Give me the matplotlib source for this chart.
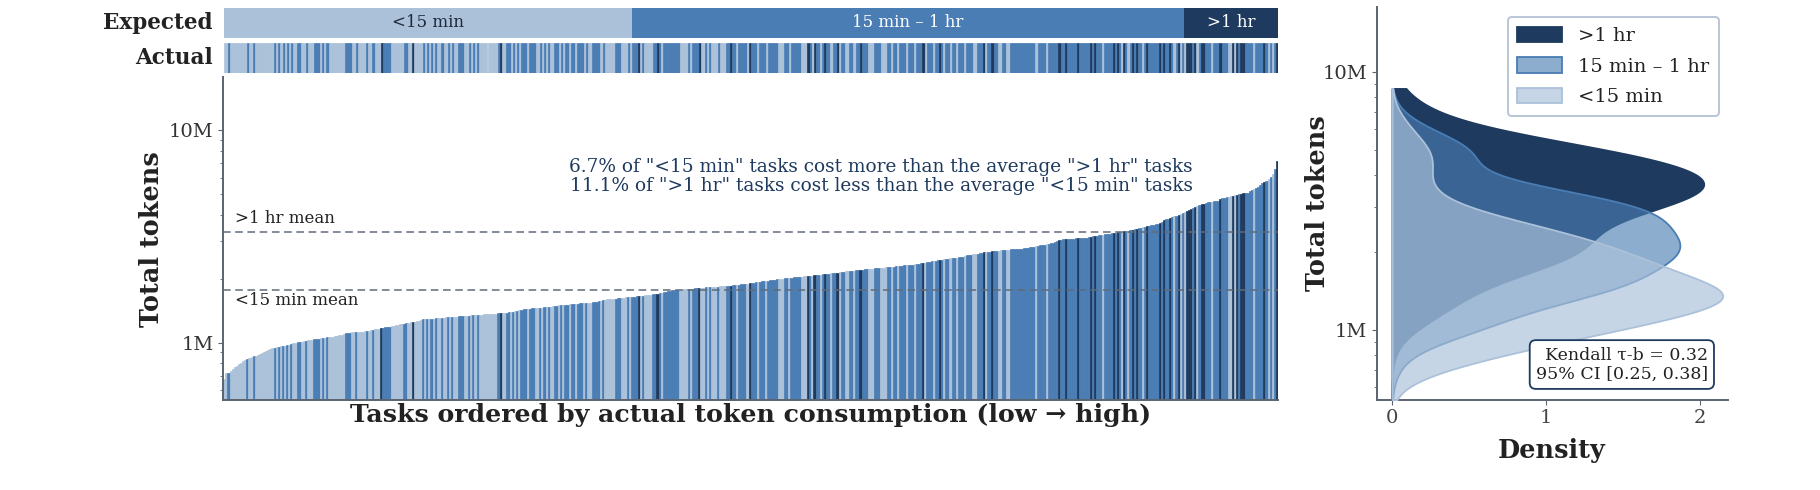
"""Token consumption per task, ordered, coloured by expected duration + stacked KDE."""
import numpy as np
import matplotlib
matplotlib.use("Agg")
import matplotlib.pyplot as plt
from matplotlib.patches import Patch
from matplotlib.colors import to_rgba
from matplotlib.ticker import FuncFormatter, LogLocator, NullFormatter
import matplotlib.transforms as mtransforms

# ---- data ----
CATEGORIES = ["<15 min", "15 min \u2013 1 hr", ">1 hr"]
COLORS = ["#abc1d9", "#4a7db4", "#1e3a5e"]

# total tokens per task, sorted ascending, in thousands
TOKENS_K = [
    672, 717, 717, 735, 750, 765, 780, 795, 805, 818,
    829, 838, 850, 858, 862, 870, 876, 881, 892, 905,
    918, 925, 932, 942, 947, 951, 955, 960, 964, 969,
    975, 980, 986, 992, 998, 1003, 1008, 1012, 1015, 1020,
    1025, 1030, 1035, 1038, 1041, 1044, 1048, 1051, 1054, 1058,
    1061, 1065, 1068, 1072, 1076, 1082, 1089, 1095, 1110, 1114,
    1116, 1118, 1120, 1122, 1124, 1126, 1129, 1131, 1134, 1139,
    1144, 1150, 1155, 1160, 1166, 1170, 1175, 1180, 1186, 1192,
    1197, 1203, 1208, 1213, 1219, 1224, 1229, 1234, 1239, 1245,
    1250, 1257, 1264, 1272, 1280, 1287, 1289, 1292, 1294, 1296,
    1299, 1301, 1304, 1306, 1309, 1312, 1315, 1318, 1321, 1324,
    1326, 1328, 1330, 1332, 1335, 1337, 1340, 1342, 1345, 1347,
    1350, 1352, 1354, 1357, 1359, 1361, 1363, 1365, 1367, 1369,
    1371, 1373, 1374, 1378, 1382, 1386, 1390, 1395, 1402, 1409,
    1416, 1423, 1430, 1437, 1443, 1446, 1448, 1450, 1453, 1455,
    1458, 1460, 1464, 1468, 1472, 1476, 1480, 1485, 1490, 1494,
    1499, 1503, 1507, 1510, 1513, 1516, 1518, 1521, 1524, 1527,
    1530, 1533, 1535, 1538, 1541, 1544, 1547, 1555, 1563, 1571,
    1579, 1587, 1594, 1598, 1602, 1605, 1609, 1613, 1617, 1621,
    1625, 1630, 1634, 1638, 1642, 1646, 1650, 1655, 1659, 1664,
    1668, 1672, 1677, 1681, 1686, 1690, 1695, 1699, 1710, 1720,
    1731, 1742, 1752, 1758, 1763, 1767, 1771, 1776, 1780, 1784,
    1787, 1790, 1793, 1796, 1800, 1804, 1808, 1812, 1815, 1818,
    1821, 1824, 1827, 1830, 1833, 1836, 1839, 1842, 1845, 1848,
    1850, 1853, 1857, 1862, 1867, 1873, 1878, 1883, 1888, 1892,
    1899, 1906, 1913, 1920, 1927, 1934, 1941, 1947, 1952, 1958,
    1963, 1968, 1974, 1980, 1985, 1991, 1997, 2003, 2009, 2015,
    2022, 2026, 2030, 2034, 2038, 2042, 2047, 2051, 2056, 2060,
    2065, 2071, 2077, 2083, 2088, 2093, 2099, 2104, 2110, 2115,
    2120, 2127, 2134, 2140, 2147, 2154, 2160, 2167, 2172, 2177,
    2182, 2187, 2193, 2198, 2204, 2209, 2214, 2219, 2224, 2228,
    2233, 2238, 2244, 2250, 2254, 2259, 2264, 2269, 2275, 2280,
    2285, 2290, 2296, 2302, 2307, 2312, 2317, 2322, 2327, 2333,
    2340, 2349, 2358, 2367, 2376, 2385, 2392, 2403, 2414, 2425,
    2436, 2445, 2454, 2462, 2471, 2480, 2490, 2500, 2506, 2511,
    2516, 2522, 2527, 2545, 2563, 2582, 2592, 2602, 2612, 2621,
    2630, 2641, 2651, 2662, 2673, 2680, 2687, 2695, 2702, 2710,
    2718, 2727, 2732, 2737, 2742, 2747, 2752, 2757, 2762, 2767,
    2772, 2776, 2787, 2797, 2808, 2818, 2826, 2838, 2849, 2861,
    2872, 2884, 2898, 2913, 2928, 2944, 2959, 2971, 3017, 3033,
    3048, 3064, 3075, 3080, 3085, 3089, 3094, 3098, 3103, 3107,
    3112, 3116, 3128, 3139, 3151, 3165, 3180, 3196, 3212, 3219,
    3231, 3243, 3254, 3265, 3277, 3288, 3300, 3311, 3322, 3333,
    3344, 3355, 3366, 3383, 3400, 3418, 3435, 3455, 3475, 3495,
    3515, 3532, 3555, 3578, 3601, 3624, 3637, 3680, 3722, 3765,
    3808, 3840, 3873, 3906, 3939, 3972, 4000, 4048, 4097, 4145,
    4194, 4233, 4272, 4311, 4350, 4420, 4453, 4486, 4519, 4552,
    4580, 4598, 4616, 4634, 4652, 4670, 4750, 4780, 4810, 4840,
    4870, 4890, 4916, 4942, 4968, 4994, 5020, 5046, 5072, 5100,
    5158, 5216, 5274, 5330, 5430, 5540, 5650, 5730, 5810, 5900,
    6050, 6250, 6600, 7170,
]

# expected-duration category of each task in the same order,
# as runs of (category index, run length)
CATEGORY_RUNS = [
    (0, 2), (1, 1), (0, 8), (1, 1), (0, 2), (1, 1), (0, 9),
    (1, 1), (0, 1), (1, 1), (0, 1), (1, 1), (0, 1), (1, 1), (0, 1), (1, 1),
    (0, 2), (1, 2), (0, 2), (1, 1), (0, 3), (1, 3),
    (0, 1), (1, 1), (0, 1), (1, 1),
    (0, 8), (1, 3), (0, 2), (1, 1), (0, 4), (1, 1), (0, 2), (1, 1), (0, 3),
    (2, 1), (1, 4), (0, 6), (1, 2), (0, 2), (2, 1), (0, 4),
    (1, 1), (0, 1), (1, 1), (0, 1), (1, 1), (0, 1), (1, 1),
    (0, 2), (1, 1), (0, 2), (1, 1), (0, 1), (1, 1), (0, 2), (1, 3), (0, 2),
    (1, 1), (0, 1), (1, 1), (0, 1), (1, 1), (0, 3),
    # ---
    (0, 6), (1, 1), (2, 1), (0, 2), (1, 2), (0, 1), (1, 1), (0, 1), (1, 1), (0, 1),
    (1, 3), (0, 1), (1, 3), (0, 2), (1, 1), (0, 1), (1, 1), (0, 1), (1, 1), (0, 2),
    (1, 2), (0, 1), (1, 1), (0, 1), (1, 2), (0, 1), (1, 2), (0, 1), (1, 3), (0, 1),
    (1, 1), (0, 2), (1, 4), (0, 1), (1, 1), (0, 5), (1, 3), (0, 3), (1, 1), (0, 1),
    (1, 3), (2, 1), (0, 1), (1, 1), (0, 4), (1, 2), (2, 1), (1, 1), (0, 1), (1, 8),
    (0, 4), (1, 1), (0, 1), (1, 3), (2, 1), (0, 2), (1, 1), (0, 1), (1, 1), (0, 3),
    (1, 1), (0, 3), (1, 2), (2, 1), (1, 2), (0, 1), (1, 4), (0, 1), (2, 1), (1, 1),
    # ---
    (1, 2), (0, 1), (1, 3), (0, 1), (1, 5), (0, 3), (1, 2), (0, 1), (1, 5), (0, 3),
    (2, 1), (1, 1), (0, 1), (2, 1), (1, 2), (0, 1), (1, 1), (2, 1), (1, 2), (0, 1),
    (1, 2), (2, 1), (0, 1), (1, 2), (0, 2), (1, 2), (0, 1), (1, 2), (2, 1), (1, 3),
    (0, 3), (1, 3), (0, 3), (1, 2), (0, 1), (1, 2), (0, 1), (1, 3), (0, 1), (1, 3),
    (0, 1), (1, 3), (2, 1), (0, 1), (1, 3), (0, 1), (1, 2), (2, 1), (1, 1), (0, 1),
    (1, 2), (0, 1), (1, 2), (0, 1), (1, 3), (0, 1), (1, 3), (0, 2), (1, 3), (2, 1),
    (0, 1), (1, 2), (2, 1), (1, 2), (0, 2), (1, 2), (0, 2), (1, 7),
    # ---
    (1, 5), (0, 1), (1, 4), (0, 1), (1, 5), (2, 1), (1, 2), (2, 1), (1, 5), (2, 1),
    (1, 5), (2, 1), (1, 1), (2, 1), (1, 3), (0, 1), (1, 4), (2, 1), (1, 1), (2, 1),
    (1, 1), (0, 1), (2, 1), (1, 1), (0, 1), (1, 1), (2, 1), (1, 1), (2, 1), (1, 2),
    (0, 1), (1, 1), (2, 1), (1, 5), (2, 1), (1, 1), (2, 1), (1, 2), (2, 1), (1, 1),
    (0, 1), (1, 1), (2, 1), (0, 1), (1, 1), (0, 1), (2, 3), (1, 1), (2, 1), (0, 1),
    (1, 1), (2, 2), (1, 3), (0, 1), (1, 3), (2, 1), (1, 3), (0, 2), (2, 1), (0, 1),
    (2, 1), (1, 1), (2, 2), (1, 4), (0, 1), (1, 4), (2, 1), (1, 1), (0, 1), (1, 1),
    (0, 1), (1, 1), (2, 1),
]

MEAN_SHORT = 1.78e6   # "<15 min mean" dashed line
MEAN_LONG = 3.33e6    # ">1 hr mean" dashed line
Y_LIMITS = (0.537e6, 17.8e6)
KDE_RANGE = (0.537e6, 8.63e6)
ANNOTATION = ('6.7% of "<15 min" tasks cost more than the average ">1 hr" tasks\n'
              '11.1% of ">1 hr" tasks cost less than the average "<15 min" tasks')
KENDALL = "Kendall \u03c4-b = 0.32\n95% CI [0.25, 0.38]"
KDE_ALPHA = [0.67, 0.63, 1.0]

TEXT = "#222222"
SPINE = "#5b6371"


def kde_log10(values, grid):
    x = np.log10(values)
    bw = x.std(ddof=1) * len(x) ** (-0.2)
    z = (grid[:, None] - x[None, :]) / bw
    return np.exp(-0.5 * z ** 2).sum(axis=1) / (len(x) * bw * np.sqrt(2 * np.pi))


def millions(v, _pos):
    return f"{v / 1e6:.0f}M"


def main() -> None:
    tokens = np.array(TOKENS_K, dtype=float) * 1e3
    cats = np.array([c for c, n in CATEGORY_RUNS for _ in range(n)])
    n = min(len(tokens), len(cats))
    tokens, cats = tokens[:n], cats[:n]
    x = np.arange(n)
    palette = np.array(COLORS)

    plt.rcParams.update({
        "font.family": ["DejaVu Serif"],
        "font.size": 13,
        "axes.edgecolor": SPINE,
        "axes.linewidth": 1.4,
        "xtick.color": SPINE,
        "ytick.color": SPINE,
        "xtick.labelcolor": "#444444",
        "ytick.labelcolor": "#333333",
        "xtick.labelsize": 14,
        "ytick.labelsize": 14,
    })

    W, H = 1820, 490
    fig = plt.figure(figsize=(W / 100, H / 100), dpi=100)

    def px_axes(x0, y0, x1, y1):
        return fig.add_axes([x0 / W, 1 - y1 / H, (x1 - x0) / W, (y1 - y0) / H])

    ax_exp = px_axes(224, 8, 1278, 37.7)
    ax_act = px_axes(224, 42.7, 1278, 72.7)
    ax_bar = px_axes(223.3, 77.3, 1278, 400)
    ax_kde = px_axes(1376.7, 7.3, 1728.3, 399.7)

    # ---- expected / actual strips ----
    counts = np.bincount(cats, minlength=3)
    starts = np.concatenate([[0], np.cumsum(counts)[:-1]]) - 0.5
    ax_exp.bar(starts, 1, width=counts, align="edge", color=COLORS, linewidth=0)
    bar_cols = palette[cats]
    ax_act.bar(x, 1, width=1.0, color=bar_cols, edgecolor=bar_cols, linewidth=0.5)
    for ax, lab in ((ax_exp, "Expected"), (ax_act, "Actual")):
        ax.set_xlim(-0.5, n - 0.5)
        ax.set_ylim(0, 1)
        ax.axis("off")
        ax.text(-0.0105, 0.5, lab, transform=ax.transAxes, ha="right", va="center",
                fontsize=15.5, fontweight="bold", color=TEXT)
    for k, (s0, cnt) in enumerate(zip(starts, counts)):
        ax_exp.text(s0 + cnt / 2, 0.5, CATEGORIES[k], ha="center", va="center",
                    fontsize=12, color="#1e2a3a" if k == 0 else "white")

    # ---- ordered bars ----
    ax_bar.bar(x, tokens, width=1.0, color=bar_cols, edgecolor=bar_cols, linewidth=0.5)
    ax_bar.set_yscale("log")
    ax_bar.set_xlim(-0.5, n - 0.5)
    ax_bar.set_ylim(*Y_LIMITS)
    ax_bar.set_xticks([])
    ax_bar.yaxis.set_major_locator(LogLocator(base=10))
    ax_bar.yaxis.set_major_formatter(FuncFormatter(millions))
    ax_bar.yaxis.set_minor_formatter(NullFormatter())
    for s in ("top", "right"):
        ax_bar.spines[s].set_visible(False)
    ax_bar.set_ylabel("Total tokens", fontsize=18.4, fontweight="bold", color=TEXT)
    ax_bar.yaxis.set_label_coords(-0.056, 0.5)
    ax_bar.set_xlabel("Tasks ordered by actual token consumption (low \u2192 high)",
                      fontsize=18.2, fontweight="bold", color=TEXT)
    ax_bar.xaxis.set_label_coords(0.5, -0.008)

    blend = mtransforms.blended_transform_factory(ax_bar.transAxes, ax_bar.transData)
    for val, lab, dy in ((MEAN_LONG, ">1 hr mean", 9.5), (MEAN_SHORT, "<15 min mean", -8)):
        ax_bar.axhline(val, color="#5f6b7a", lw=1.1, ls=(0, (5, 3)), zorder=3)
        ax_bar.annotate(lab, xy=(0.011, val), xycoords=blend, xytext=(0, dy),
                        textcoords="offset points", ha="left", va="center",
                        fontsize=12, color=TEXT)
    ax_bar.text(0.9194, 0.6935, ANNOTATION, transform=ax_bar.transAxes, ha="right",
                va="center", multialignment="right", fontsize=13.3, color="#1e3a5e",
                linespacing=1.1)

    # ---- density panel ----
    grid = np.linspace(np.log10(KDE_RANGE[0]), np.log10(KDE_RANGE[1]), 400)
    ygrid = 10 ** grid
    handles = []
    for k in (2, 1, 0):
        dens = kde_log10(tokens[cats == k], grid)
        ax_kde.fill_betweenx(ygrid, 0, dens, facecolor=to_rgba(COLORS[k], KDE_ALPHA[k]),
                             edgecolor=COLORS[k], linewidth=1.3, zorder=3 - k)
        handles.append(Patch(facecolor=to_rgba(COLORS[k], KDE_ALPHA[k]),
                             edgecolor=COLORS[k], linewidth=1.3, label=CATEGORIES[k]))
    ax_kde.set_yscale("log")
    ax_kde.set_ylim(*Y_LIMITS)
    ax_kde.set_xlim(-0.1, 2.185)
    ax_kde.set_xticks([0, 1, 2])
    ax_kde.yaxis.set_major_locator(LogLocator(base=10))
    ax_kde.yaxis.set_major_formatter(FuncFormatter(millions))
    ax_kde.yaxis.set_minor_formatter(NullFormatter())
    for s in ("top", "right"):
        ax_kde.spines[s].set_visible(False)
    ax_kde.set_ylabel("Total tokens", fontsize=18.4, fontweight="bold", color=TEXT)
    ax_kde.yaxis.set_label_coords(-0.133, 0.5)
    ax_kde.set_xlabel("Density", fontsize=18.4, fontweight="bold", color=TEXT)
    ax_kde.xaxis.set_label_coords(0.498, -0.098)

    leg = ax_kde.legend(handles=handles, loc="upper right", fontsize=14, frameon=True,
                        fancybox=True, handlelength=2.3, handleheight=0.85,
                        labelspacing=0.62, borderpad=0.5)
    leg.get_frame().set_edgecolor("#a8b7cc")
    leg.get_frame().set_linewidth(1.4)
    for t in leg.get_texts():
        t.set_color(TEXT)
    ax_kde.text(0.942, 0.043, KENDALL, transform=ax_kde.transAxes, ha="right", va="bottom",
                multialignment="right", fontsize=12.5, color=TEXT, zorder=10,
                bbox=dict(boxstyle="round,pad=0.35", fc="white", ec="#1e3a5e", lw=1.3))

    fig.savefig("out.png", dpi=100)
    plt.close(fig)


if __name__ == "__main__":
    main()
